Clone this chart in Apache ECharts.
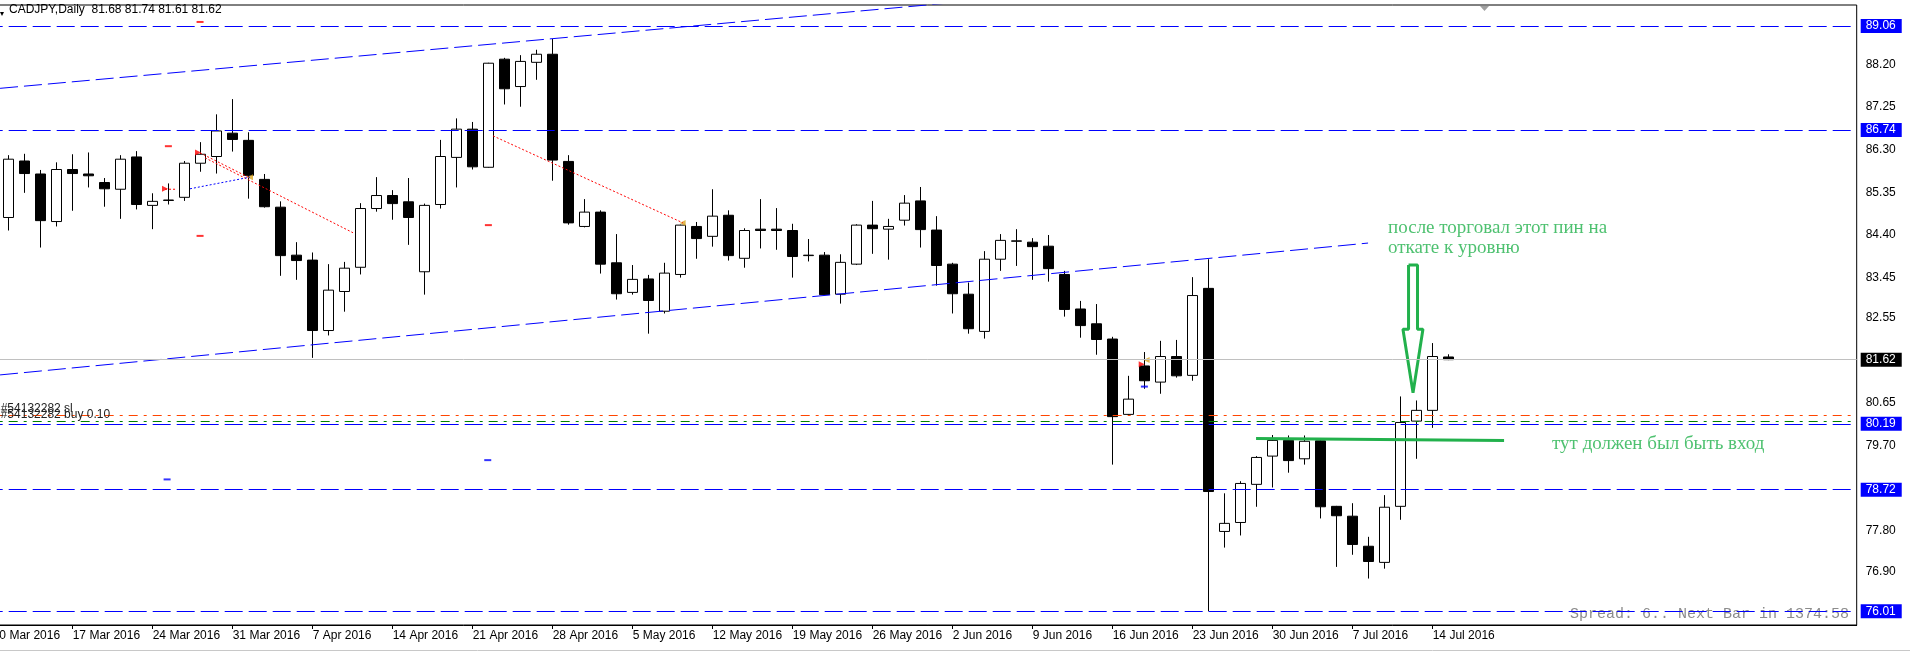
<!DOCTYPE html>
<html>
<head>
<meta charset="utf-8">
<title>CADJPY,Daily</title>
<script src="https://cdn.jsdelivr.net/npm/echarts@6/dist/echarts.min.js"></script>
<style>
  html, body { margin: 0; padding: 0; background: #fff; }
  #chart { width: 1910px; height: 652px; }
</style>
</head>
<body>
<div id="chart"></div>
<script>
// trading days shown on the chart (10 Mar is off the left edge)
const dates = [
  '10 Mar 2016', '11 Mar 2016', '14 Mar 2016', '15 Mar 2016', '16 Mar 2016', '17 Mar 2016', '18 Mar 2016',
  '21 Mar 2016', '22 Mar 2016', '23 Mar 2016', '24 Mar 2016', '25 Mar 2016', '28 Mar 2016', '29 Mar 2016',
  '30 Mar 2016', '31 Mar 2016', '1 Apr 2016', '4 Apr 2016', '5 Apr 2016', '6 Apr 2016', '7 Apr 2016',
  '8 Apr 2016', '11 Apr 2016', '12 Apr 2016', '13 Apr 2016', '14 Apr 2016', '15 Apr 2016', '18 Apr 2016',
  '19 Apr 2016', '20 Apr 2016', '21 Apr 2016', '22 Apr 2016', '25 Apr 2016', '26 Apr 2016', '27 Apr 2016',
  '28 Apr 2016', '29 Apr 2016', '2 May 2016', '3 May 2016', '4 May 2016', '5 May 2016', '6 May 2016',
  '9 May 2016', '10 May 2016', '11 May 2016', '12 May 2016', '13 May 2016', '16 May 2016', '17 May 2016',
  '18 May 2016', '19 May 2016', '20 May 2016', '23 May 2016', '24 May 2016', '25 May 2016', '26 May 2016',
  '27 May 2016', '30 May 2016', '31 May 2016', '1 Jun 2016', '2 Jun 2016', '3 Jun 2016', '6 Jun 2016',
  '7 Jun 2016', '8 Jun 2016', '9 Jun 2016', '10 Jun 2016', '13 Jun 2016', '14 Jun 2016', '15 Jun 2016',
  '16 Jun 2016', '17 Jun 2016', '20 Jun 2016', '21 Jun 2016', '22 Jun 2016', '23 Jun 2016', '24 Jun 2016',
  '27 Jun 2016', '28 Jun 2016', '29 Jun 2016', '30 Jun 2016', '1 Jul 2016', '4 Jul 2016', '5 Jul 2016',
  '6 Jul 2016', '7 Jul 2016', '8 Jul 2016', '11 Jul 2016', '12 Jul 2016', '13 Jul 2016', '14 Jul 2016',
  '15 Jul 2016'
];

const openP = [null,
  84.79, 86.05, 85.76, 84.70, 85.86, 85.76, 85.57, 85.42, 86.14, 85.06,
  85.17, 85.24, 86.00, 86.15, 86.67, 86.51, 85.64, 85.02, 83.95, 83.84,
  82.27, 83.14, 83.68, 84.99, 85.28, 85.14, 83.58, 85.08, 86.13, 86.76,
  85.91, 88.32, 87.71, 88.25, 88.43, 86.04, 84.59, 84.91, 83.78, 83.12,
  83.42, 82.70, 83.52, 84.59, 84.37, 84.84, 83.88, 84.53, 84.53, 84.50,
  83.94, 83.95, 83.08, 83.75, 84.62, 84.53, 84.73, 85.16, 84.51, 83.75,
  83.08, 82.25, 83.86, 84.26, 84.24, 84.15, 83.52, 82.75, 82.42, 82.08,
  80.40, 81.48, 81.12, 81.69, 81.27, 83.21, 77.79, 77.99, 78.84, 79.47,
  79.82, 79.41, 79.81, 78.35, 78.13, 77.46, 77.10, 78.35, 80.25, 80.49, 81.68];
const closeP = [null,
  86.09, 85.77, 84.72, 85.86, 85.77, 85.72, 85.43, 86.09, 85.08, 85.15,
  85.18, 86.00, 86.20, 86.72, 86.53, 85.73, 85.03, 83.94, 83.83, 82.27,
  83.17, 83.66, 84.99, 85.28, 85.10, 84.79, 85.06, 86.15, 86.76, 85.92,
  88.23, 87.66, 88.27, 88.43, 86.07, 84.67, 84.91, 83.75, 83.09, 83.41,
  82.94, 83.55, 84.62, 84.32, 84.82, 83.94, 84.50, 84.50, 84.50, 83.92,
  83.95, 83.07, 83.79, 84.62, 84.54, 84.59, 85.11, 84.52, 83.72, 83.09,
  82.31, 83.86, 84.28, 84.27, 84.14, 83.65, 82.74, 82.38, 82.07, 80.35,
  80.74, 81.15, 81.69, 81.26, 83.05, 78.68, 77.97, 78.86, 79.44, 79.82,
  79.37, 79.80, 78.34, 78.14, 77.50, 77.12, 78.33, 80.22, 80.49, 81.69, 81.62];
const lowP = [null,
  84.50, 85.34, 84.12, 84.59, 84.94, 85.46, 85.03, 84.76, 84.97, 84.53,
  85.08, 85.16, 85.81, 85.77, 86.26, 85.21, 85.01, 83.49, 83.40, 81.66,
  82.16, 82.69, 83.52, 84.92, 84.74, 84.18, 83.07, 84.99, 85.46, 85.86,
  85.90, 87.31, 87.26, 87.86, 85.61, 84.63, 84.57, 83.54, 82.96, 83.07,
  82.20, 82.65, 83.45, 83.87, 84.14, 83.83, 83.67, 84.10, 84.07, 83.45,
  83.81, 83.06, 82.87, 83.73, 83.98, 83.85, 84.61, 84.12, 83.27, 82.65,
  82.20, 82.09, 83.60, 83.71, 83.40, 83.36, 82.58, 82.11, 81.73, 79.28,
  80.39, 80.97, 80.86, 81.22, 81.15, 76.01, 77.43, 77.70, 78.34, 78.77,
  79.10, 79.28, 78.08, 77.00, 77.27, 76.74, 76.96, 78.05, 79.41, 80.10, 81.61];
const highP = [null,
  86.18, 86.21, 85.85, 86.02, 86.20, 86.24, 85.67, 86.18, 86.27, 85.33,
  85.55, 86.05, 86.47, 87.09, 87.43, 86.69, 85.76, 85.15, 84.24, 84.01,
  83.75, 83.80, 85.11, 85.69, 85.40, 85.67, 85.10, 86.52, 87.00, 86.92,
  88.24, 88.35, 88.41, 88.53, 88.77, 86.18, 85.20, 84.95, 84.42, 83.73,
  83.51, 83.78, 84.63, 84.69, 85.42, 84.95, 84.55, 85.20, 85.00, 84.65,
  84.31, 84.02, 83.97, 84.64, 85.16, 84.76, 85.29, 85.47, 84.82, 83.78,
  83.34, 84.04, 84.42, 84.53, 84.33, 84.40, 83.60, 82.93, 82.86, 82.13,
  81.26, 81.79, 82.04, 82.06, 83.46, 83.86, 78.64, 78.91, 79.47, 79.94,
  79.93, 79.93, 79.82, 78.36, 78.42, 77.67, 78.60, 80.80, 80.71, 81.99, 81.74];

// price levels and axis ticks
const levelPrices = [89.06, 86.74, 80.19, 78.72, 76.01];
const bidPrice = 81.62;
const slPrice = 80.37;
const entryPrice = 80.25;
const yTickValues = [76.90, 77.80, 79.70, 80.65, 82.55, 83.45, 84.40, 85.35, 86.30, 87.25, 88.20];

// drawn objects, [bar index, price]
const upperTrend = [[0.46, 87.67], [60, 89.58]];
const lowerTrend = [[0.46, 81.28], [85.96, 84.22]];
const tradeLines = [
  [[12.96, 86.23], [16.08, 85.67]],
  [[13.27, 86.12], [22.52, 84.45]],
  [[31.27, 86.61], [43.14, 84.67]],
  [[10.77, 85.42], [11.52, 85.42]]
];
const tradeBlue = [[12.33, 85.43], [16.08, 85.69]];
const redTicks = [[10.98, 86.38], [12.96, 89.15], [12.96, 84.38], [30.98, 84.62]];
const blueTicks = [[10.90, 78.95], [30.94, 79.38], [71.98, 81.02]];
const openArrows = [[10.77, 85.43], [12.83, 86.24], [71.81, 81.52]];
const closeArrows = [[16.08, 85.69], [43.12, 84.67], [72.12, 81.61]];
const entryLevel = [[78.96, 79.86], [94.46, 79.82]];
const arrowShape = [[88.49, 83.73], [89.05, 83.73], [89.05, 82.30], [89.39, 82.30],
  [88.77, 80.88], [88.14, 82.30], [88.49, 82.30], [88.49, 83.73]];
const noteTop = [87.21, 84.33];
const noteRight = [97.46, 79.73];

const N_SLOTS = 117; // bars that fit across the window incl. empty shift area
const categories = dates.concat(new Array(N_SLOTS - dates.length).fill(''));
const candles = dates.map((d, i) =>
  openP[i] == null ? '-' : [openP[i], closeP[i], lowP[i], highP[i]]);

const FONT = 'Liberation Sans';
const GREEN = '#22b14c';

const chart = echarts.init(document.getElementById('chart'));

const showThursday = (idx, val) => idx % 5 === 0 && val !== '';

const levelLines = levelPrices.map(v => ({
  yAxis: v,
  lineStyle: { color: '#0000ff', type: [18, 6], width: 1 },
  label: {
    show: true, position: 'end', distance: 4, formatter: v.toFixed(2),
    color: '#fff', backgroundColor: '#0000ff', padding: [1, 6, 0, 5],
    fontSize: 12, lineHeight: 13, fontFamily: FONT
  }
}));

const overlayLine = (data, color, type, width) => ({
  type: 'line', xAxisIndex: 1, yAxisIndex: 0, data: data,
  symbol: 'none', clip: true, silent: true,
  lineStyle: { color: color, type: type, width: width || 1 }
});

const option = {
  animation: false,
  title: {
    text: 'CADJPY,Daily  81.68 81.74 81.61 81.62',
    left: 9, top: 4, padding: 0,
    textStyle: { fontSize: 12, fontWeight: 'normal', color: '#000', fontFamily: FONT }
  },
  grid: {
    left: -15.3, right: 53.3, top: 5, bottom: 27,
    show: true, borderColor: '#000', borderWidth: 1,
    containLabel: false, outerBoundsMode: 'none'
  },
  xAxis: [
    {
      type: 'category', data: categories, boundaryGap: true,
      axisLine: { lineStyle: { color: '#000' } },
      axisTick: { show: true, alignWithLabel: true, length: 4, interval: showThursday,
        lineStyle: { color: '#000' } },
      axisLabel: { interval: showThursday, align: 'left', margin: 5, color: '#000',
        fontSize: 12, fontFamily: FONT },
      splitLine: { show: false }
    },
    { type: 'value', min: -0.5, max: N_SLOTS - 0.5, show: false }
  ],
  yAxis: {
    type: 'value', position: 'right', min: 75.704, max: 89.528, scale: true,
    axisLine: { show: true, lineStyle: { color: '#000' } },
    axisTick: { show: true, length: 3, customValues: yTickValues, lineStyle: { color: '#000' } },
    axisLabel: { customValues: yTickValues, formatter: v => v.toFixed(2), margin: 9,
      color: '#000', fontSize: 12, fontFamily: FONT },
    splitLine: { show: false }
  },
  graphic: [
    { type: 'polygon', shape: { points: [[0, 12], [4, 12], [2, 16]] }, style: { fill: '#000' } },
    { type: 'polygon', shape: { points: [[1480, 6], [1489, 6], [1484.5, 11]] },
      style: { fill: '#a0a0a0' } },
    { type: 'line', shape: { x1: 0, y1: 650.5, x2: 1910, y2: 650.5 },
      style: { stroke: '#c8c8c8', lineWidth: 1 } },
    { type: 'text', right: 61, top: 607,
      style: { text: 'Spread: 6.. Next Bar in 1374:58', font: '15px "Liberation Mono"', fill: '#8c8c8c' } }
  ],
  series: [
    {
      name: 'CADJPY', type: 'candlestick', xAxisIndex: 0, yAxisIndex: 0,
      data: candles, barWidth: 10,
      itemStyle: { color: '#fff', color0: '#000', borderColor: '#000', borderColor0: '#000', borderWidth: 1 },
      markLine: {
        silent: true, symbol: 'none', animation: false,
        data: levelLines.concat([
          { yAxis: bidPrice, lineStyle: { color: '#c0c0c0', type: 'solid', width: 1 },
            label: { show: true, position: 'end', distance: 4, formatter: bidPrice.toFixed(2),
              color: '#fff', backgroundColor: '#000', padding: [1, 6, 0, 5],
              fontSize: 12, lineHeight: 13, fontFamily: FONT } },
          { yAxis: slPrice, lineStyle: { color: '#ff4500', type: [9, 6, 3, 6], width: 1 },
            label: { show: true, position: 'insideStartTop', distance: [16, 1],
              formatter: '#54132282 sl', color: '#222', fontSize: 12, fontFamily: FONT } },
          { yAxis: entryPrice, lineStyle: { color: '#008000', type: [9, 6, 3, 6], width: 1 },
            label: { show: true, position: 'insideStartTop', distance: [16, 0],
              formatter: '#54132282 buy 0.10', color: '#222', fontSize: 12, fontFamily: FONT } }
        ])
      }
    },
    overlayLine(upperTrend, '#0000ff', [18, 6]),
    overlayLine(lowerTrend, '#0000ff', [18, 6]),
    ...tradeLines.map(l => overlayLine(l, '#ff0000', [2, 2])),
    overlayLine(tradeBlue, '#0000ff', [2, 2]),
    overlayLine(entryLevel, GREEN, 'solid', 3),
    overlayLine(arrowShape, GREEN, 'solid', 3),
    { type: 'scatter', xAxisIndex: 1, data: redTicks, symbol: 'rect', symbolSize: [7, 2],
      itemStyle: { color: '#ff0000' }, silent: true },
    { type: 'scatter', xAxisIndex: 1, data: blueTicks, symbol: 'rect', symbolSize: [7, 2],
      itemStyle: { color: '#0000ff' }, silent: true },
    { type: 'scatter', xAxisIndex: 1, data: openArrows, symbol: 'triangle', symbolSize: 6,
      symbolRotate: -90, itemStyle: { color: '#ff0000' }, silent: true },
    { type: 'scatter', xAxisIndex: 1, data: closeArrows, symbol: 'triangle', symbolSize: 6,
      symbolRotate: 90, itemStyle: { color: '#daa520' }, silent: true },
    {
      type: 'scatter', xAxisIndex: 1, silent: true, symbolSize: 0,
      data: [noteTop, noteRight],
      label: {
        show: true, position: 'right', distance: 0, align: 'left',
        formatter: p => p.dataIndex === 0
          ? 'после торговал этот пин на\nоткате к уровню'
          : 'тут должен был быть вход',
        color: GREEN, fontFamily: 'Liberation Serif', fontSize: 19, lineHeight: 20
      }
    }
  ]
};

chart.setOption(option);
</script>
</body>
</html>
